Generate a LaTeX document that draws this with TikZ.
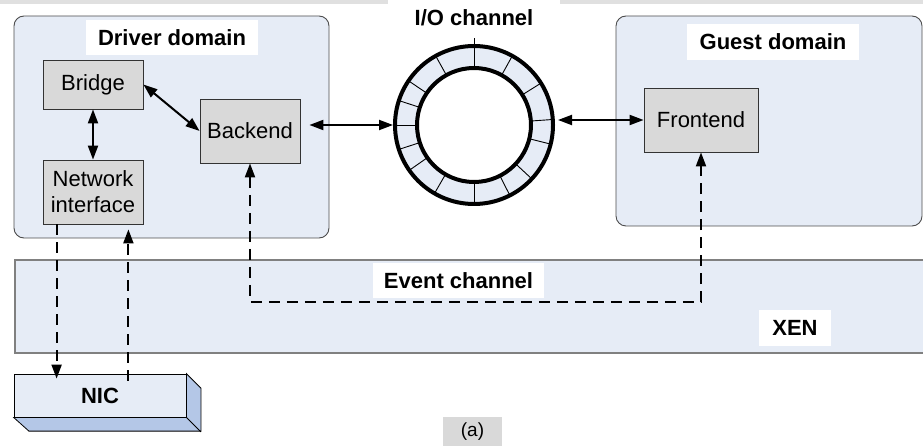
\documentclass[tikz,border=0pt]{standalone}
\usepackage{fontspec}
\setmainfont{Liberation Sans}
\usetikzlibrary{positioning, arrows.meta}

\definecolor{paleblue}{HTML}{E6ECF6}
\definecolor{boxgray}{HTML}{D9D9D9}
\definecolor{nicside}{HTML}{B4C7E7}

\tikzset{
  domainbox/.style={draw=black!70, fill=paleblue, rounded corners=10pt, line width=0.9pt},
  module/.style={draw=black!80, fill=boxgray, line width=0.8pt, align=center, inner sep=0pt,
    font=\fontsize{22}{26}\selectfont},
  labelbox/.style={fill=white, inner sep=0pt, font=\fontsize{22}{25}\selectfont\bfseries},
  duplex/.style={<->, line width=2pt},
  evtline/.style={dash pattern=on 11pt off 7pt, line width=2pt}
}

\begin{document}
\begin{tikzpicture}[x=1pt, y=-1pt, on grid, node distance=2cm,
    >={Triangle[length=14pt,width=10pt]}]
   \useasboundingbox (0,0) rectangle (923,446);
   \fill[black!12] (0,0) rectangle (923,4);

   % domains and hypervisor
   \node[domainbox, minimum width=315pt, minimum height=222pt] (driver) at (171.5,127) {};
   \node[domainbox, minimum width=306pt, minimum height=210pt] (guest) at (769,121) {};
   \node[draw=black!50, line width=1.8pt, fill=paleblue, inner sep=0pt,
         minimum width=916pt, minimum height=93pt] (xen) at (473,306.5) {};

   \node[labelbox, minimum width=172pt, minimum height=35pt] (drvlabel) at (172,37.5) {Driver domain};
   \node[labelbox, minimum width=172pt, minimum height=36pt] (guestlabel) at (773,42) {Guest domain};
   \node[labelbox, minimum width=172pt, minimum height=35pt] (iolabel) at (474,17.5) {I/O channel};
   \node[labelbox, minimum width=171pt, minimum height=35pt] (evtlabel) at (458.5,280.5) {Event channel};
   \node[labelbox, minimum width=72pt, minimum height=36pt] (xenlabel) at (795,328) {XEN};

   % modules
   \node[module, minimum width=100pt, minimum height=49pt] (bridge) at (93,84.5) {Bridge};
   \node[module, minimum width=100pt, minimum height=64pt] (netif) [below=107.5pt of bridge] {Network\\interface};
   \node[module, minimum width=100pt, minimum height=64pt] (backend) [below right=46.5pt and 157pt of bridge] {Backend};
   \node[module, minimum width=114pt, minimum height=64pt] (frontend) at (701,120) {Frontend};

   % ring buffer
   \node[circle, draw, line width=4pt, fill=paleblue, minimum size=158pt, inner sep=0pt] (ring) at (474,125) {};
   \fill[white] (ring.center) circle (57pt);
   \foreach \a in {4,32,61,119,146,162,180,198,215,240,270,297,317,346}
     \draw[line width=0.9pt] ([shift={(\a:57pt)}]ring.center) -- ([shift={(\a:79pt)}]ring.center);
   \draw[line width=0.9pt] ([shift={(90:57pt)}]ring.center) -- ([shift={(90:87pt)}]ring.center);
   \draw[line width=4pt] (ring.center) circle (57pt);

   % NIC
   \node[draw, line width=0.8pt, fill=paleblue, minimum width=172pt, minimum height=43pt,
         font=\fontsize{22}{25}\selectfont\bfseries] (nic) at (100,395.5) {NIC};
   \filldraw[fill=nicside, line width=0.8pt] (nic.north east) -- ++(14.5,14.5) -- ++(0,43)
     -- ++(-172,0) -- (nic.south west) -- (nic.south east) -- cycle;
   \draw[line width=0.8pt] (nic.south east) -- ++(14.5,14.5);

   \node[fill=boxgray, inner sep=0pt, minimum width=59pt, minimum height=29pt,
         font=\fontsize{19}{22}\selectfont] (caption) at (472.5,431.5) {(a)};

   % connectors
   \draw[duplex] (bridge.east) -- (backend.west);
   \draw[duplex] (bridge.south) -- (netif.north);
   \draw[duplex, shorten <=9pt] (ring.west -| backend.east) -- (ring.west);
   \draw[duplex, shorten <=3pt] (frontend.west -| ring.east) -- (frontend.west);

   \coordinate (evtbend) at (458,302);
   \draw[evtline, <->] (backend.south) |- (evtbend) -| (frontend.south);

   \coordinate (nicin) at ([xshift=14pt]netif.south west);
   \coordinate (nicout) at ([xshift=-15pt]netif.south east);
   \draw[evtline, ->, shorten >=-5pt] (nicin) -- (nicin |- nic.north);
   \draw[evtline, ->, shorten <=-7pt, shorten >=5pt] (nicout |- nic.north) -- (nicout);
\end{tikzpicture}
\end{document}
